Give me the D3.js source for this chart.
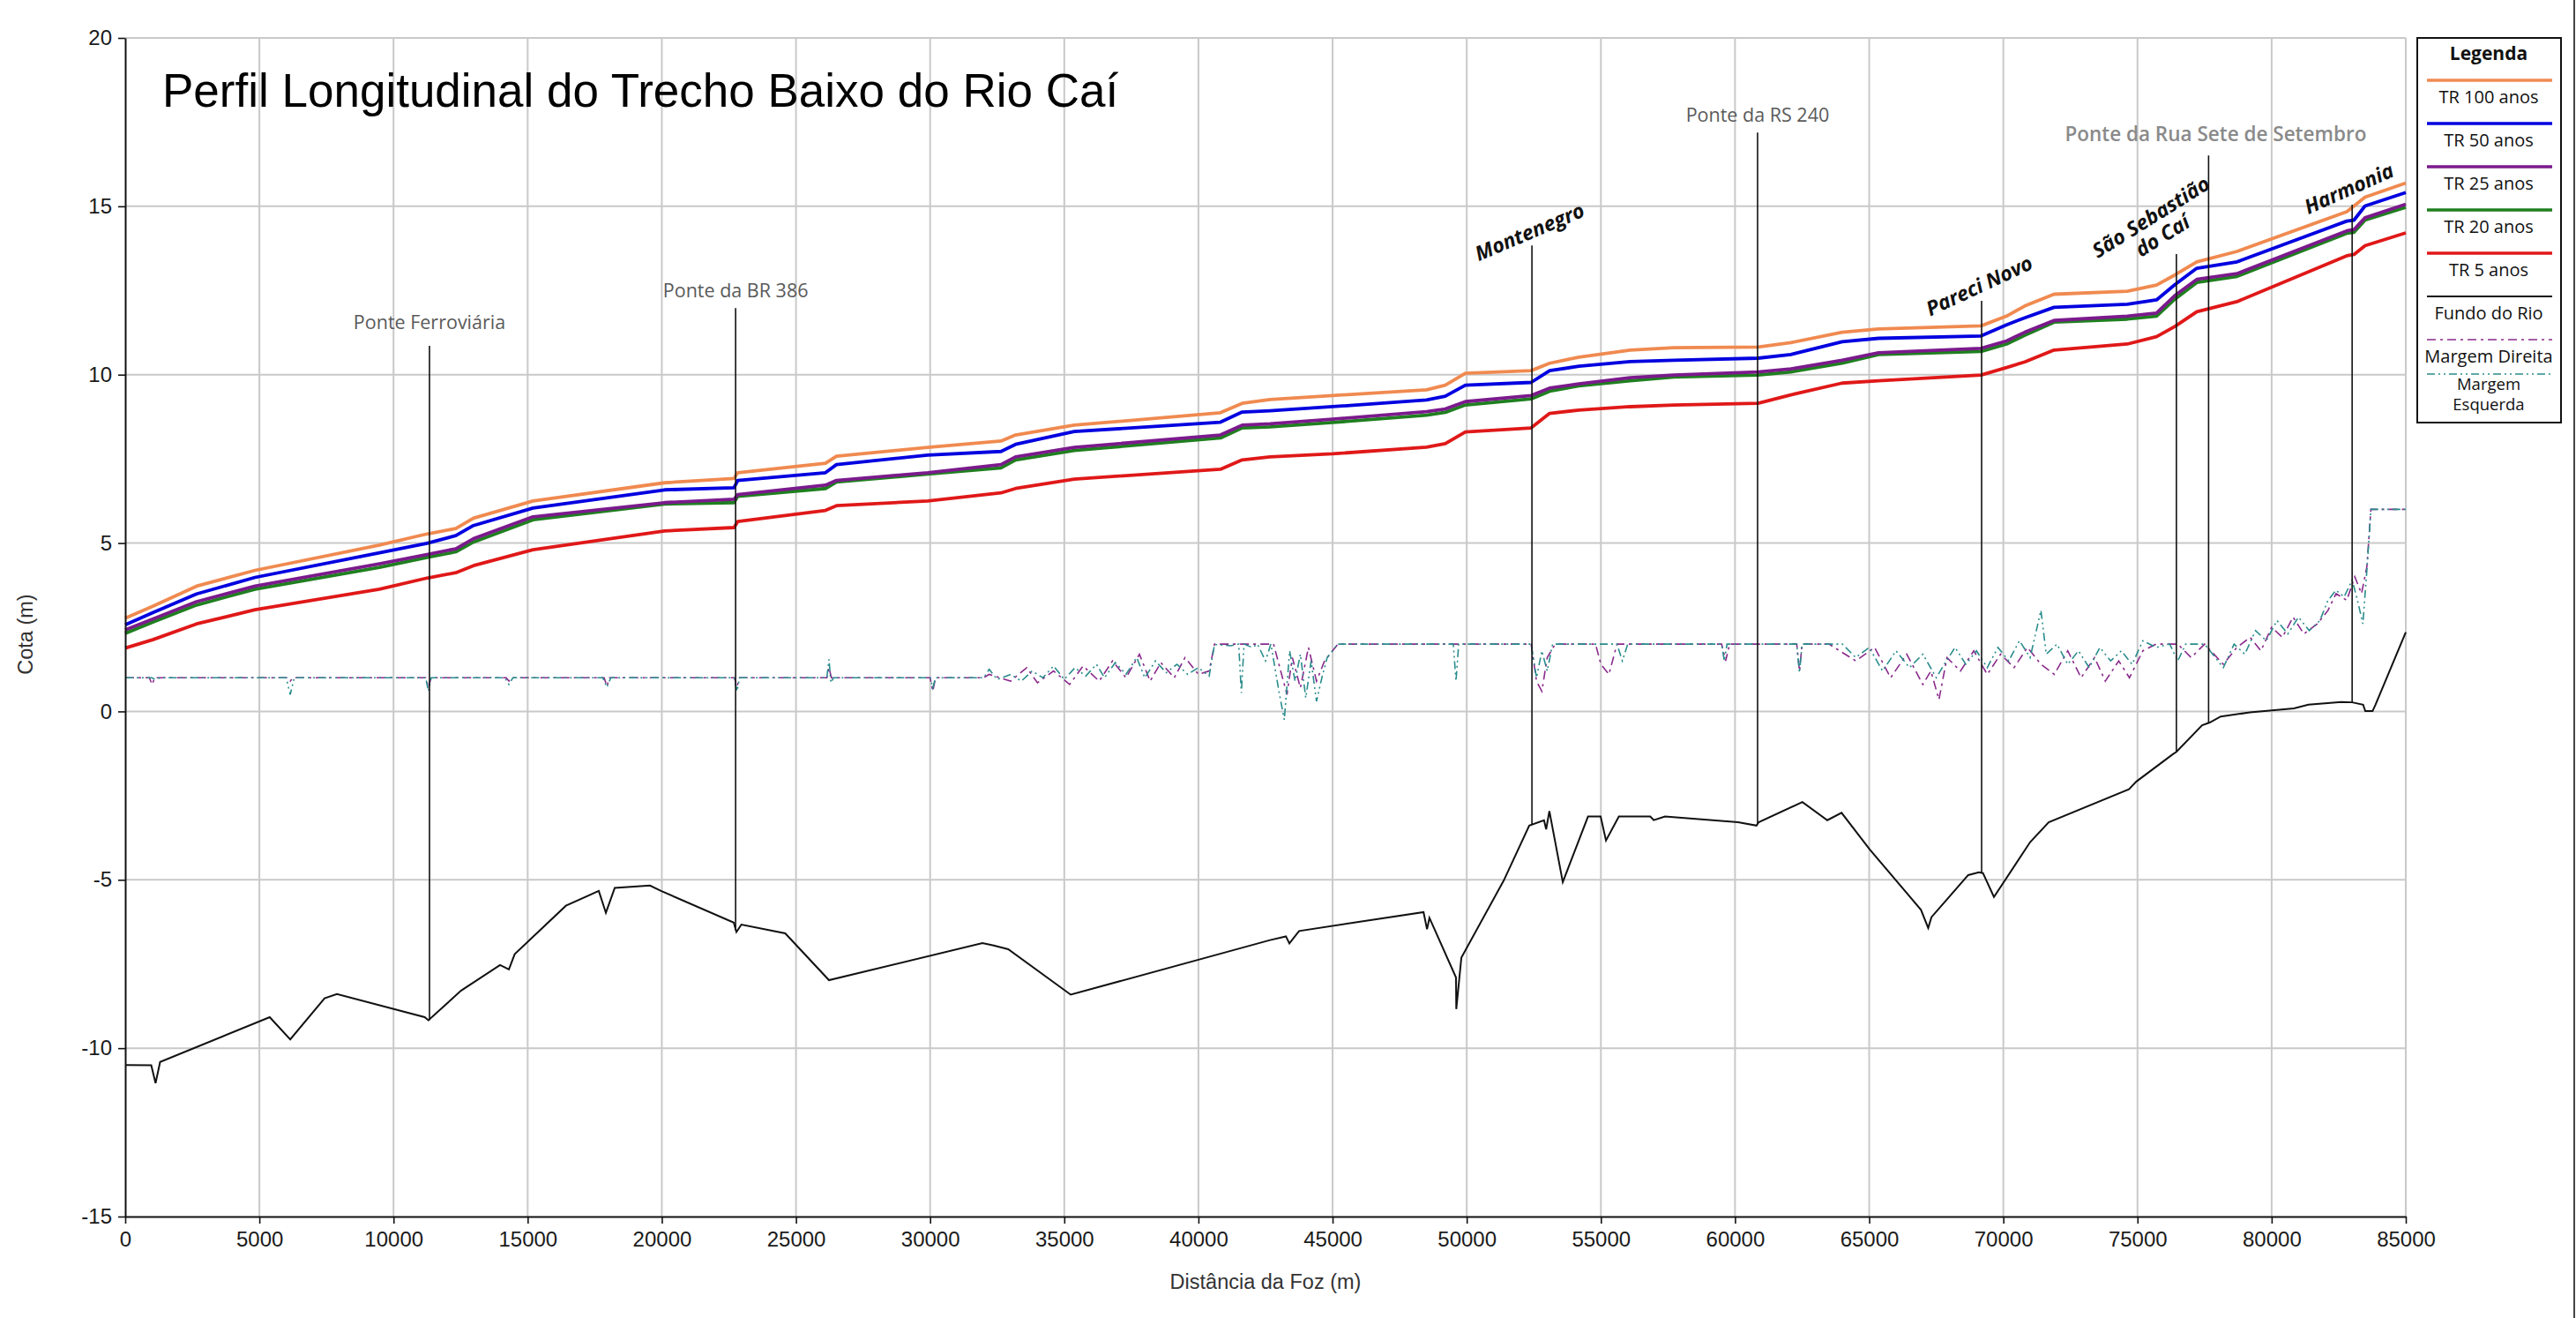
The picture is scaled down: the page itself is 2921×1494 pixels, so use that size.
<!DOCTYPE html>
<html>
<head>
<meta charset="utf-8">
<script src="https://cdn.jsdelivr.net/npm/d3@7/dist/d3.min.js"></script>
<style>
  body { margin: 0; background: #fff; }
</style>
</head>
<body>
<script>
// stations (m from the mouth) where the water levels were read
const stations = [0, 1025, 2660, 4840, 9475, 11245, 12320, 12980, 15200, 20100, 22690, 22830, 26100, 26510,
  29910, 32640, 33185, 35370, 40820, 41630, 42670, 45000, 48500, 49200, 49950, 52400, 53090, 54180, 56090,
  57720, 60860, 62080, 63990, 65350, 69170, 70120, 70800, 71890, 74620, 75710, 76390, 77210, 78710, 82800,
  83070, 83480, 85000]

const tr100 = [2.77, 3.12, 3.72, 4.19, 4.94, 5.27, 5.43, 5.74, 6.25, 6.79, 6.92, 7.09, 7.37, 7.58,
  7.84, 8.03, 8.21, 8.50, 8.87, 9.15, 9.26, 9.38, 9.55, 9.69, 10.04, 10.12, 10.34, 10.52, 10.73,
  10.80, 10.82, 10.95, 11.26, 11.36, 11.45, 11.74, 12.04, 12.39, 12.48, 12.66, 12.96, 13.35, 13.66, 14.84,
  15.01, 15.27, 15.69]
const tr50 = [2.57, 2.93, 3.49, 3.98, 4.71, 4.99, 5.22, 5.52, 6.04, 6.58, 6.64, 6.86, 7.09, 7.33,
  7.61, 7.72, 7.93, 8.31, 8.59, 8.89, 8.93, 9.05, 9.25, 9.36, 9.69, 9.77, 10.12, 10.25, 10.39,
  10.43, 10.49, 10.60, 10.98, 11.08, 11.15, 11.48, 11.69, 12.00, 12.09, 12.22, 12.67, 13.16, 13.35, 14.56,
  14.59, 15.01, 15.41]
const tr25 = [2.42, 2.74, 3.26, 3.72, 4.38, 4.66, 4.83, 5.13, 5.78, 6.20, 6.30, 6.44, 6.72, 6.86,
  7.09, 7.33, 7.56, 7.84, 8.21, 8.50, 8.54, 8.68, 8.90, 8.98, 9.20, 9.38, 9.60, 9.73, 9.91,
  9.99, 10.08, 10.17, 10.43, 10.65, 10.78, 11.00, 11.26, 11.61, 11.74, 11.83, 12.35, 12.83, 13.00, 14.27,
  14.31, 14.66, 15.06]
const tr20 = [2.32, 2.65, 3.16, 3.63, 4.28, 4.57, 4.74, 5.03, 5.69, 6.16, 6.20, 6.39, 6.62, 6.81,
  7.05, 7.23, 7.47, 7.75, 8.12, 8.42, 8.45, 8.58, 8.80, 8.88, 9.10, 9.28, 9.51, 9.67, 9.82,
  9.93, 9.99, 10.08, 10.34, 10.60, 10.69, 10.91, 11.17, 11.56, 11.65, 11.74, 12.24, 12.74, 12.92, 14.20,
  14.23, 14.59, 14.97]
const tr5 = [1.88, 2.13, 2.60, 3.02, 3.63, 3.96, 4.12, 4.33, 4.80, 5.36, 5.46, 5.64, 5.97, 6.11,
  6.25, 6.49, 6.62, 6.90, 7.19, 7.47, 7.56, 7.65, 7.85, 7.95, 8.30, 8.42, 8.85, 8.95, 9.05,
  9.10, 9.15, 9.40, 9.75, 9.82, 9.99, 10.21, 10.38, 10.73, 10.91, 11.13, 11.43, 11.87, 12.17, 13.53,
  13.57, 13.83, 14.21]

// river bed
const bedX = [0, 970, 1130, 1300, 5385, 6150, 7430, 7890, 11160, 11300, 12520, 13970, 14300, 14515, 16425,
  17650, 17915, 18245, 19560, 19970, 22680, 22780, 22965, 24600, 26230, 31950, 32370, 32910, 35240, 42670,
  43260, 43390, 43750, 48390, 48520, 48610, 49600, 49610, 49800, 51380, 52330, 52880, 52960, 53080, 53580,
  54520, 54990, 55190, 55670, 56840, 56970, 57390, 60110, 60800, 60880, 62510, 63440, 63970, 65020, 66930,
  67200, 67320, 68690, 69090, 69240, 69650, 71000, 71690, 74680, 74960, 76320, 76450, 77410, 77690, 78100,
  79190, 80830, 81370, 82600, 83000, 83410, 83490, 83760, 83870, 85000]
const bedY = [-10.5, -10.51, -11.04, -10.41, -9.08, -9.74, -8.52, -8.39, -9.08, -9.17, -8.29, -7.53, -7.66, -7.21, -5.77,
  -5.33, -5.98, -5.24, -5.17, -5.33, -6.27, -6.55, -6.33, -6.59, -7.98, -6.88, -6.95, -7.06, -8.41, -6.79,
  -6.68, -6.89, -6.52, -5.96, -6.47, -6.13, -7.9, -8.84, -7.31, -5.02, -3.39, -3.23, -3.5, -2.96, -5.07,
  -3.12, -3.12, -3.83, -3.12, -3.12, -3.23, -3.12, -3.29, -3.39, -3.29, -2.69, -3.23, -3.01, -4.1, -5.89,
  -6.43, -6.11, -4.86, -4.78, -4.8, -5.51, -3.88, -3.29, -2.31, -2.08, -1.27, -1.2, -0.41, -0.33, -0.15,
  -0.03, 0.09, 0.2, 0.28, 0.27, 0.2, 0.01, 0.01, 0.2, 2.35]

// right bank
const mdX = [0, 900, 1000, 1100, 6050, 6150, 6250, 11200, 11300, 11400, 14200, 14300, 14400, 17850, 17950, 18050,
  22700, 22800, 22900, 26150, 26230, 26320, 30000, 30100, 30200, 32000, 32200, 33000, 33600, 34000, 34600,
  35200, 35700, 36300, 36800, 37300, 37800, 38200, 38600, 39100, 39500, 40000, 40400, 40600, 42800, 43000,
  43300, 43500, 43800, 44100, 44400, 44700, 45200, 52400, 52600, 52800, 53000, 53300, 54800, 55000, 55300,
  55600, 59500, 59650, 59800, 62300, 62400, 62500, 63500, 64500, 65200, 65800, 66400, 67000, 67300, 67600,
  67900, 68400, 68900, 69400, 69900, 70400, 70900, 71400, 71900, 72400, 72900, 73400, 73800, 74300, 74700,
  75200, 75700, 76500, 77000, 77500, 78200, 78700, 79200, 79600, 80000, 80400, 80800, 81200, 81700, 82100,
  82400, 82800, 83100, 83350, 83550, 83700, 85000]
const mdY = [1.0, 1.0, 0.8, 1.0, 1.0, 0.9, 1.0, 1.0, 0.7, 1.0, 1.0, 0.9, 1.0, 1.0, 0.75, 1.0,
  1.0, 0.75, 1.0, 1.0, 1.3, 1.0, 1.0, 0.6, 1.0, 1.0, 1.1, 0.9, 1.3, 0.85, 1.2,
  0.8, 1.35, 0.9, 1.5, 1.0, 1.7, 0.9, 1.45, 1.0, 1.6, 1.1, 1.2, 2.0, 2.0, 1.4,
  0.5, 1.6, 0.7, 1.9, 0.9, 1.5, 2.0, 2.0, 0.9, 0.6, 1.6, 2.0, 2.0, 1.4, 1.1,
  2.0, 2.0, 1.5, 2.0, 2.0, 1.2, 2.0, 2.0, 1.5, 1.9, 1.0, 1.7, 0.8, 1.2, 0.35,
  1.6, 1.2, 1.8, 1.1, 1.7, 1.3, 1.9, 1.4, 1.1, 1.8, 1.0, 1.6, 0.9, 1.5, 1.0,
  1.8, 2.0, 2.0, 1.6, 2.0, 1.4, 1.9, 2.2, 1.8, 2.5, 2.2, 2.8, 2.3, 2.6, 3.0,
  3.5, 3.3, 4.0, 3.5, 4.3, 6.0, 6.0]

// left bank
const meX = [0, 1000, 1100, 1300, 6000, 6150, 6300, 11200, 11300, 11400, 14150, 14300, 14450, 17800, 17950, 18100,
  22700, 22800, 22900, 26150, 26230, 26300, 26400, 30000, 30100, 30200, 32000, 32200, 32500, 33000, 33400,
  33800, 34200, 34600, 35000, 35400, 35800, 36200, 36500, 36900, 37300, 37700, 38000, 38400, 38800, 39200,
  39600, 40000, 40400, 40600, 41200, 41500, 41600, 41700, 42000, 42200, 42500, 42700, 43000, 43200, 43400,
  43600, 43800, 44000, 44200, 44400, 44600, 44800, 45200, 49500, 49600, 49700, 52400, 52600, 52800, 53000,
  53200, 55600, 55800, 56000, 59500, 59600, 59700, 62300, 62400, 62500, 64000, 64500, 65000, 65500, 66000,
  66500, 67000, 67500, 67800, 68200, 68600, 69000, 69400, 69800, 70200, 70600, 71000, 71400, 71600, 72000,
  72400, 72800, 73200, 73600, 74000, 74400, 74800, 75200, 75700, 76200, 76500, 76800, 77500, 78200, 78600,
  79000, 79400, 79800, 80200, 80600, 81000, 81400, 81800, 82100, 82400, 82700, 83000, 83200, 83400, 83550,
  83700, 85000]
const meY = [1.0, 1.0, 0.95, 1.0, 1.0, 0.5, 1.0, 1.0, 0.6, 1.0, 1.0, 0.8, 1.0, 1.0, 0.72, 1.0,
  1.0, 0.6, 1.0, 1.0, 1.55, 0.85, 1.0, 1.0, 0.7, 1.0, 1.0, 1.25, 0.95, 1.1, 0.9,
  1.2, 1.0, 1.35, 0.95, 1.3, 1.05, 1.4, 1.0, 1.45, 1.1, 1.6, 1.0, 1.5, 1.15, 1.4,
  1.1, 1.3, 1.05, 1.99, 1.95, 2.0, 0.55, 2.0, 1.9, 2.0, 1.5, 2.0, 0.6, -0.25, 1.8,
  0.9, 1.7, 0.4, 1.5, 0.3, 1.0, 1.6, 2.0, 2.0, 0.9, 2.0, 2.0, 1.0, 1.8, 1.2,
  2.0, 2.0, 1.5, 2.0, 2.0, 1.5, 2.0, 2.0, 1.15, 2.0, 2.0, 1.6, 1.9, 1.2, 1.8,
  1.3, 1.7, 1.0, 1.4, 1.9, 1.4, 1.8, 1.3, 1.9, 1.5, 2.1, 1.6, 3.0, 1.7, 2.0,
  1.4, 1.8, 1.3, 1.9, 1.5, 1.8, 1.4, 2.1, 1.9, 2.0, 1.5, 2.0, 2.0, 1.3, 2.0,
  1.7, 2.4, 2.1, 2.7, 2.3, 2.8, 2.4, 2.7, 3.3, 3.6, 3.4, 3.9, 3.3, 2.6, 4.2,
  6.0, 6.0]

// bridges and towns
const placeNames = ['Ponte Ferroviária', 'Ponte da BR 386', 'Montenegro', 'Ponte da RS 240', 'Pareci Novo',
  'São Sebastião do Caí', 'Ponte da Rua Sete de Setembro', 'Harmonia']
const placeX = [11340, 22750, 52430, 60840, 69190, 76450, 77650, 83000]
const placeTop = [10.86, 11.98, 13.84, 17.19, 12.19, 13.58, 16.51, 15.05]
const placeBottom = [-9.17, -6.5, -3.37, -3.35, -4.78, -1.2, -0.35, 0.27]

const xTicks = d3.range(0, 85001, 5000)
const xMinor = d3.range(0, 85001, 2500)
const yTicks = [-15, -10, -5, 0, 5, 10, 15, 20]
const yMinor = d3.range(-15, 21, 1)

const legendNames = ['TR 100 anos', 'TR 50 anos', 'TR 25 anos', 'TR 20 anos', 'TR 5 anos', 'Fundo do Rio',
  'Margem Direita', 'Margem Esquerda']
const colors = ['#f08a50', '#0000e0', '#7b1a8c', '#1f7f1f', '#e01818', '#111111', '#8a2a8c', '#2a8c8c']

const W = 2921, H = 1494
const x = d3.scaleLinear().domain([0, 85000]).range([142, 2728])
const y = d3.scaleLinear().domain([-15, 20]).range([1379, 43])

const svg = d3.select('body').append('svg')
    .attr('width', W).attr('height', H)
    .style('font-family', '"Liberation Sans", Arial, sans-serif')

svg.append('rect').attr('width', W).attr('height', H).attr('fill', '#fff')

// grid
svg.append('g').selectAll('line.gx')
    .data(xTicks.filter(d => d > 0))
    .enter().append('line')
        .attr('x1', d => x(d)).attr('x2', d => x(d))
        .attr('y1', y(20)).attr('y2', y(-15))
        .attr('stroke', '#c9c9c9').attr('stroke-width', 2)
svg.append('g').selectAll('line.gy')
    .data(yTicks.filter(d => d > -15))
    .enter().append('line')
        .attr('x1', x(0)).attr('x2', x(85000))
        .attr('y1', d => y(d)).attr('y2', d => y(d))
        .attr('stroke', '#c9c9c9').attr('stroke-width', 2)

const line = d3.line().x(d => x(d[0])).y(d => y(d[1]))

// banks
svg.append('path')
    .attr('d', line(d3.zip(mdX, mdY)))
    .attr('fill', 'none').attr('stroke', colors[6]).attr('stroke-width', 1.6)
    .attr('stroke-dasharray', '10,5,3,5')
svg.append('path')
    .attr('d', line(d3.zip(meX, meY)))
    .attr('fill', 'none').attr('stroke', colors[7]).attr('stroke-width', 1.6)
    .attr('stroke-dasharray', '9,4,2,4,2,4')

// bed
svg.append('path')
    .attr('d', line(d3.zip(bedX, bedY)))
    .attr('fill', 'none').attr('stroke', '#111').attr('stroke-width', 2)

// water levels, lowest first
const series = [tr100, tr50, tr25, tr20, tr5]
const order = [4, 3, 2, 1, 0]
order.forEach(i => {
    svg.append('path')
        .attr('d', line(d3.zip(stations, series[i])))
        .attr('fill', 'none').attr('stroke', colors[i]).attr('stroke-width', 3.8)
        .attr('stroke-linejoin', 'round')
})

// reference verticals
svg.append('g').selectAll('line')
    .data(placeX)
    .enter().append('line')
        .attr('x1', d => x(d)).attr('x2', d => x(d))
        .attr('y1', (d, i) => y(placeTop[i]))
        .attr('y2', (d, i) => y(placeBottom[i]))
        .attr('stroke', '#111').attr('stroke-width', 1.6)

// bridge labels (grey, horizontal)
const bridgeIdx = [0, 1, 3, 6]
const bridgeGap = [19, 12, 12, 16]
bridgeIdx.forEach((k, j) => {
    svg.append('text')
        .attr('x', x(placeX[k]) + (k === 6 ? 8 : 0))
        .attr('y', y(placeTop[k]) - bridgeGap[j])
        .attr('text-anchor', 'middle')
        .attr('font-family', '"Open Sans", "Noto Sans", sans-serif')
        .attr('font-size', k === 6 ? 22.5 : 21.5)
        .attr('font-weight', k === 6 ? 600 : 400)
        .attr('fill', k === 6 ? '#8a8a8a' : '#5a5a5a')
        .text(placeNames[k])
})

// town labels (bold, slanted)
const townIdx = [2, 4, 7]
const townOff = [[-3, -16, -23], [-3, -18, -25], [-4, -19, -24]]
townIdx.forEach((k, j) => {
    const cx = x(placeX[k]) + townOff[j][0]
    const cy = y(placeTop[k]) + townOff[j][1]
    svg.append('text')
        .attr('transform', `translate(${cx},${cy}) rotate(${townOff[j][2]})`)
        .attr('text-anchor', 'middle')
        .attr('dominant-baseline', 'central')
        .attr('font-family', '"Open Sans", "Noto Sans", sans-serif')
        .attr('font-size', 23).attr('font-weight', 700).attr('font-style', 'italic')
        .attr('fill', '#111')
        .text(placeNames[k])
})
// two-line town label
const ssc = placeNames[5].split(' do ')
const sscText = svg.append('text')
    .attr('transform', `translate(${x(placeX[5]) - 29},${y(placeTop[5]) - 42}) rotate(-32)`)
    .attr('text-anchor', 'middle')
    .attr('font-family', '"Open Sans", "Noto Sans", sans-serif')
    .attr('font-size', 23).attr('font-weight', 700).attr('font-style', 'italic')
    .attr('fill', '#111')
sscText.append('tspan').attr('x', 0).attr('dy', '0.35em').text(ssc[0])
sscText.append('tspan').attr('x', 0).attr('dy', 25).text('do ' + ssc[1])

// axes
const fmt = d => String(d)
const gx = svg.append('g').attr('transform', `translate(0,${y(-15)})`)
gx.call(d3.axisBottom(x).tickValues(xMinor).tickSize(4).tickSizeOuter(0).tickFormat(''))
gx.call(d3.axisBottom(x).tickValues(xTicks).tickSize(8).tickSizeOuter(0).tickPadding(9).tickFormat(fmt))
const gy = svg.append('g').attr('transform', `translate(${x(0)},0)`)
gy.call(d3.axisLeft(y).tickValues(yMinor).tickSize(5).tickSizeOuter(0).tickFormat(''))
gy.call(d3.axisLeft(y).tickValues(yTicks).tickSize(8).tickSizeOuter(0).tickPadding(7).tickFormat(fmt))

svg.selectAll('.domain').attr('stroke', '#111').attr('stroke-width', 2)
svg.selectAll('.tick line').attr('stroke', '#111').attr('stroke-width', 1.6)
svg.selectAll('.tick text')
    .attr('font-family', '"Liberation Sans", Arial, sans-serif')
    .attr('font-size', 24).attr('fill', '#1a1a1a')

svg.append('text')
    .attr('transform', `translate(37,${(y(20) + y(-15)) / 2 + 8}) rotate(-90)`)
    .attr('text-anchor', 'middle')
    .attr('font-size', 23.5).attr('fill', '#333')
    .text('Cota (m)')
svg.append('text')
    .attr('x', (x(0) + x(85000)) / 2).attr('y', 1461)
    .attr('text-anchor', 'middle')
    .attr('font-size', 23.5).attr('fill', '#333')
    .text('Distância da Foz (m)')

// title
svg.append('text')
    .attr('x', 184).attr('y', 121)
    .attr('font-size', 53).attr('fill', '#000')
    .text('Perfil Longitudinal do Trecho Baixo do Rio Caí')

// legend
const lg = svg.append('g').attr('font-family', '"Open Sans", "Noto Sans", sans-serif')
lg.append('rect')
    .attr('x', 2741).attr('y', 43).attr('width', 163).attr('height', 436)
    .attr('fill', '#fff').attr('stroke', '#111').attr('stroke-width', 2)
lg.append('text')
    .attr('x', 2822).attr('y', 68)
    .attr('text-anchor', 'middle')
    .attr('font-size', 21).attr('font-weight', 700).attr('fill', '#111')
    .text('Legenda')
const dashes = [null, null, null, null, null, null, '10,5,3,5', '9,4,2,4,2,4']
legendNames.forEach((name, i) => {
    const ly = 91 + i * 49 - (i === 7 ? 10 : 0)
    lg.append('line')
        .attr('x1', 2752).attr('x2', 2894).attr('y1', ly).attr('y2', ly)
        .attr('stroke', colors[i])
        .attr('stroke-width', i < 5 ? 3.5 : (i === 5 ? 1.8 : 1.6))
        .attr('stroke-dasharray', dashes[i])
    if (i === 7) {
        name.split(' ').forEach((p, j) => {
            lg.append('text')
                .attr('x', 2822).attr('y', ly + 18 + j * 23)
                .attr('text-anchor', 'middle')
                .attr('font-size', 18.5).attr('fill', '#111')
                .text(p)
        })
    } else {
        lg.append('text')
            .attr('x', 2822).attr('y', ly + 26)
            .attr('text-anchor', 'middle')
            .attr('font-size', 20).attr('fill', '#111')
            .text(name)
    }
})

// right frame edge
svg.append('line')
    .attr('x1', 2919).attr('x2', 2919).attr('y1', 0).attr('y2', H)
    .attr('stroke', '#444').attr('stroke-width', 2)
</script>
</body>
</html>
